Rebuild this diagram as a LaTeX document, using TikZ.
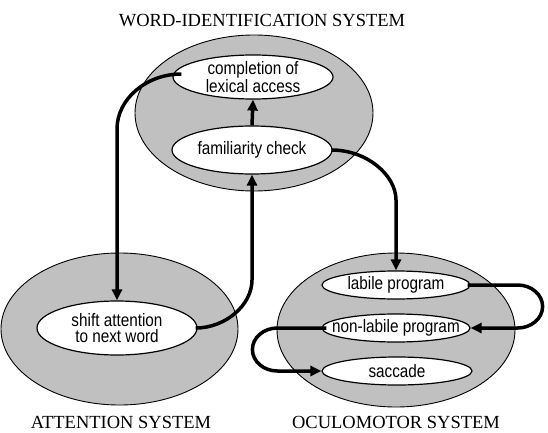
\documentclass[tikz,border=0pt]{standalone}
\usepackage{fontspec}
\setmainfont{Liberation Serif}
\newfontfamily\stagefont[FakeStretch=0.85]{Liberation Sans}
\usetikzlibrary{shapes.geometric,arrows.meta}
\definecolor{ringgray}{RGB}{192,192,192}
\tikzset{
>={Triangle[length=11pt,width=10pt]},
  system/.style={
    ellipse,
    fill=ringgray,
    draw=black, line width=0.9pt,
    inner sep=0pt},
  stage/.style={
    ellipse,
    fill=white,
    draw=black, line width=1.2pt,
    inner sep=0pt},
  stagetext/.style={
    font=\stagefont\fontsize{18}{16.5}\selectfont,
    align=center,
    inner sep=0pt},
  systitle/.style={
    font=\fontsize{18.5}{20}\selectfont,
    anchor=base,
    inner sep=0pt},
  flow/.style={draw, line width=3.5pt, ->},
}

\begin{document}
\begin{tikzpicture}[x=1pt,y=1pt]
    \useasboundingbox (0,0) rectangle (548,432);

    % the three systems
    \node[system, minimum width=238pt, minimum height=156pt] (wordsys) at (254,319) {};
    \node[system, minimum width=237pt, minimum height=152pt] (attsys) at (119.5,103) {};
    \node[system, minimum width=238pt, minimum height=154pt] (oculosys) at (396,102) {};

    \node[systitle] (wordtitle) at (262,405) {WORD-IDENTIFICATION SYSTEM};
    \node[systitle] (atttitle) at (121,3.5) {ATTENTION SYSTEM};
    \node[systitle] (oculotitle) at (396,3.5) {OCULOMOTOR SYSTEM};

    % processing stages
    \node[stage, minimum width=160pt, minimum height=44pt] (compl) at (253,355) {};
    \node[stage, minimum width=160pt, minimum height=48pt] (famil) at (252,282) {};
    \node[stage, minimum width=160pt, minimum height=54pt] (shift) at (117,104) {};
    \node[stage, minimum width=148pt, minimum height=28pt] (labile) at (396,147) {};
    \node[stage, minimum width=148pt, minimum height=28pt] (nonlab) at (396,104) {};
    \node[stage, minimum width=150pt, minimum height=28pt] (sacc) at (397,61) {};

    \node[stagetext] (compl-t) at (compl) {completion of\\lexical access};
    \node[stagetext] (famil-t) at (famil) {familiarity check};
    \node[stagetext] (shift-t) at (shift) {shift attention\\to next word};
    \node[stagetext] (labile-t) at (labile) {labile program};
    \node[stagetext] (nonlab-t) at (nonlab) {non-labile program};
    \node[stagetext] (sacc-t) at (sacc) {saccade};

    % flow between stages
    \draw[flow] ([xshift=9pt,yshift=3pt]compl.west)
        .. controls +(-35,0) and +(0,30) .. (shift.north |- 0,303) -- (shift.north);
    \draw[flow] ([xshift=-2pt]shift.east)
        .. controls +(30,0) and +(0,-25) .. (famil.south |- 0,152) -- (famil.south);
    \draw[flow] (famil.north) -- (compl.south);
    \draw[flow] ([xshift=-1pt]famil.east)
        .. controls +(35,0) and +(0,25) .. (labile.north |- 0,232) -- (labile.north);
    \draw[flow] ([xshift=-3pt]labile.east) -- ++(50,0)
        arc[start angle=90, end angle=-90, x radius=25, y radius=21.5] -- (nonlab.east);
    \draw[flow] ([xshift=5pt]nonlab.west) -- ++(-49,0)
        arc[start angle=90, end angle=270, x radius=25, y radius=21.5] -- (sacc.west);
  \end{tikzpicture}
\end{document}
